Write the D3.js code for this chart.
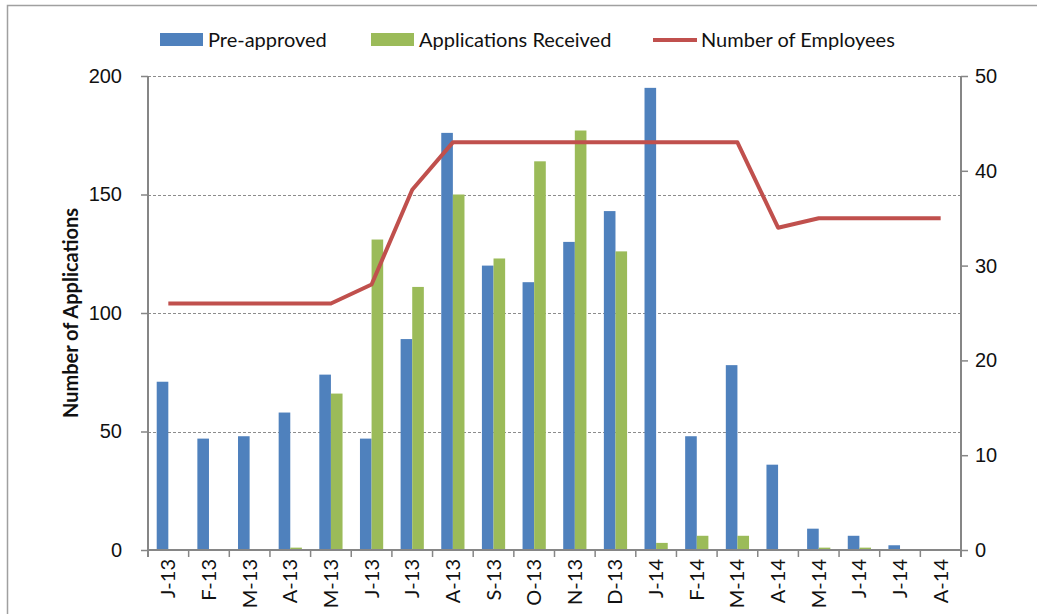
<!DOCTYPE html>
<html>
<head>
<meta charset="utf-8">
<script src="https://cdn.jsdelivr.net/npm/d3@7"></script>
<style>
  body { margin: 0; background: #fff; }
  svg { display: block; font-family: Lato, "Open Sans", sans-serif; }
</style>
</head>
<body>
<div id="chart"></div>
<script>
const width = 1037;
const height = 614;
const marginTop = 76;
const marginRight = 76;
const marginBottom = 64;
const marginLeft = 148;

const months = ["J-13", "F-13", "M-13", "A-13", "M-13 ", "J-13 ", "J-13  ", "A-13 ", "S-13", "O-13", "N-13", "D-13",
    "J-14", "F-14", "M-14", "A-14", "M-14 ", "J-14 ", "J-14  ", "A-14 "];
const preApproved = [71, 47, 48, 58, 74, 47, 89, 176, 120, 113, 130, 143, 195, 48, 78, 36, 9, 6, 2, 0];
const received = [0, 0, 0, 1, 66, 131, 111, 150, 123, 164, 177, 126, 3, 6, 6, 0, 1, 1, 0, 0];
const employees = [26, 26, 26, 26, 26, 28, 38, 43, 43, 43, 43, 43, 43, 43, 43, 34, 35, 35, 35, 35];
const leftTicks = [0, 50, 100, 150, 200];
const rightTicks = [0, 10, 20, 30, 40, 50];

const blue = "#4f81bd";
const green = "#9bbb59";
const red = "#c0504d";
const axisGrey = "#868686";
const fontSize = 20;

const svg = d3.select("#chart")
    .append("svg")
    .attr("width", width)
    .attr("height", height);

// outer chart frame (runs past the picture edge)
svg.append("rect")
    .attr("x", 7.5).attr("y", 5.5)
    .attr("width", width + 20).attr("height", height + 20)
    .attr("fill", "none")
    .attr("stroke", "#a0a0a0")
    .attr("stroke-width", 1.5);

const x = d3.scaleBand()
    .domain(months)
    .range([marginLeft, width - marginRight]);

const xSub = d3.scaleBand()
    .domain(["pre", "rec"])
    .range([0, x.bandwidth()])
    .paddingInner(0)
    .paddingOuter(0.75);

const yLeft = d3.scaleLinear()
    .domain([0, 200])
    .range([height - marginBottom, marginTop]);

const yRight = d3.scaleLinear()
    .domain([0, 50])
    .range([height - marginBottom, marginTop]);

const x0 = marginLeft, x1 = width - marginRight;
const yBase = yLeft(0);

// gridlines
svg.append("g")
    .selectAll("line")
    .data(leftTicks.filter(d => d > 0))
    .join("line")
    .attr("x1", x0).attr("x2", x1)
    .attr("y1", d => Math.round(yLeft(d)) + 0.5)
    .attr("y2", d => Math.round(yLeft(d)) + 0.5)
    .attr("stroke", "#8c8c8c")
    .attr("stroke-dasharray", "3,2");

// bars
const groups = svg.append("g")
    .selectAll("g")
    .data(months)
    .join("g")
    .attr("transform", d => `translate(${x(d)},0)`);

groups.append("rect")
    .attr("x", xSub("pre"))
    .attr("y", (d, i) => yLeft(preApproved[i]))
    .attr("width", xSub.bandwidth())
    .attr("height", (d, i) => yBase - yLeft(preApproved[i]))
    .attr("fill", blue);

groups.append("rect")
    .attr("x", xSub("rec"))
    .attr("y", (d, i) => yLeft(received[i]))
    .attr("width", xSub.bandwidth())
    .attr("height", (d, i) => yBase - yLeft(received[i]))
    .attr("fill", green);

// employees line
const line = d3.line()
    .x((d, i) => x(months[i]) + x.bandwidth() / 2)
    .y(d => yRight(d));

svg.append("path")
    .datum(employees)
    .attr("d", line)
    .attr("fill", "none")
    .attr("stroke", red)
    .attr("stroke-width", 4)
    .attr("stroke-linejoin", "round");

// left axis
const leftAxis = svg.append("g")
    .attr("transform", `translate(${x0},0)`)
    .call(d3.axisLeft(yLeft).tickValues(leftTicks).tickSize(7).tickPadding(19));
leftAxis.select(".domain").remove();
leftAxis.selectAll(".tick line").attr("stroke", axisGrey).attr("stroke-width", 1.5);
leftAxis.selectAll("text").attr("font-size", fontSize).attr("fill", "#111");

// right axis
const rightAxis = svg.append("g")
    .attr("transform", `translate(${x1},0)`)
    .call(d3.axisRight(yRight).tickValues(rightTicks).tickSize(7).tickPadding(7));
rightAxis.select(".domain").remove();
rightAxis.selectAll(".tick line").attr("stroke", axisGrey).attr("stroke-width", 1.5);
rightAxis.selectAll("text").attr("font-size", fontSize).attr("fill", "#111");

// axis lines
svg.append("line")
    .attr("x1", x0).attr("x2", x0)
    .attr("y1", marginTop).attr("y2", yBase + 7)
    .attr("stroke", axisGrey).attr("stroke-width", 2);
svg.append("line")
    .attr("x1", x1).attr("x2", x1)
    .attr("y1", marginTop).attr("y2", yBase + 7)
    .attr("stroke", axisGrey).attr("stroke-width", 2);
svg.append("line")
    .attr("x1", x0).attr("x2", x1)
    .attr("y1", yBase).attr("y2", yBase)
    .attr("stroke", axisGrey).attr("stroke-width", 2);

// category boundary ticks
svg.append("g")
    .selectAll("line")
    .data(months.slice(1))
    .join("line")
    .attr("x1", d => x(d)).attr("x2", d => x(d))
    .attr("y1", yBase).attr("y2", yBase + 7)
    .attr("stroke", axisGrey).attr("stroke-width", 1.5);

// category labels
svg.append("g")
    .selectAll("text")
    .data(months)
    .join("text")
    .attr("transform", d => `translate(${x(d) + x.bandwidth() / 2 + 7},${yBase + 9}) rotate(-90)`)
    .attr("text-anchor", "end")
    .attr("font-size", fontSize)
    .attr("fill", "#111")
    .text(d => d.trim());

// y axis title
svg.append("text")
    .attr("transform", `translate(78,${(marginTop + yBase) / 2}) rotate(-90)`)
    .attr("text-anchor", "middle")
    .attr("font-size", 20)
    .attr("font-weight", "bold")
    .attr("fill", "#111")
    .text("Number of Applications");

// legend
const legend = svg.append("g");
const items = [
    { label: "Pre-approved", color: blue, type: "bar", x: 160 },
    { label: "Applications Received", color: green, type: "bar", x: 371 },
    { label: "Number of Employees", color: red, type: "line", x: 653 }
];
items.forEach(it => {
    if (it.type === "bar") {
        legend.append("rect")
            .attr("x", it.x).attr("y", 33)
            .attr("width", 43).attr("height", 13)
            .attr("fill", it.color);
    } else {
        legend.append("line")
            .attr("x1", it.x).attr("x2", it.x + 44)
            .attr("y1", 40).attr("y2", 40)
            .attr("stroke", it.color).attr("stroke-width", 4);
    }
    legend.append("text")
        .attr("x", it.x + 48).attr("y", 47)
        .attr("font-size", fontSize)
        .attr("fill", "#111")
        .text(it.label);
});
</script>
</body>
</html>
